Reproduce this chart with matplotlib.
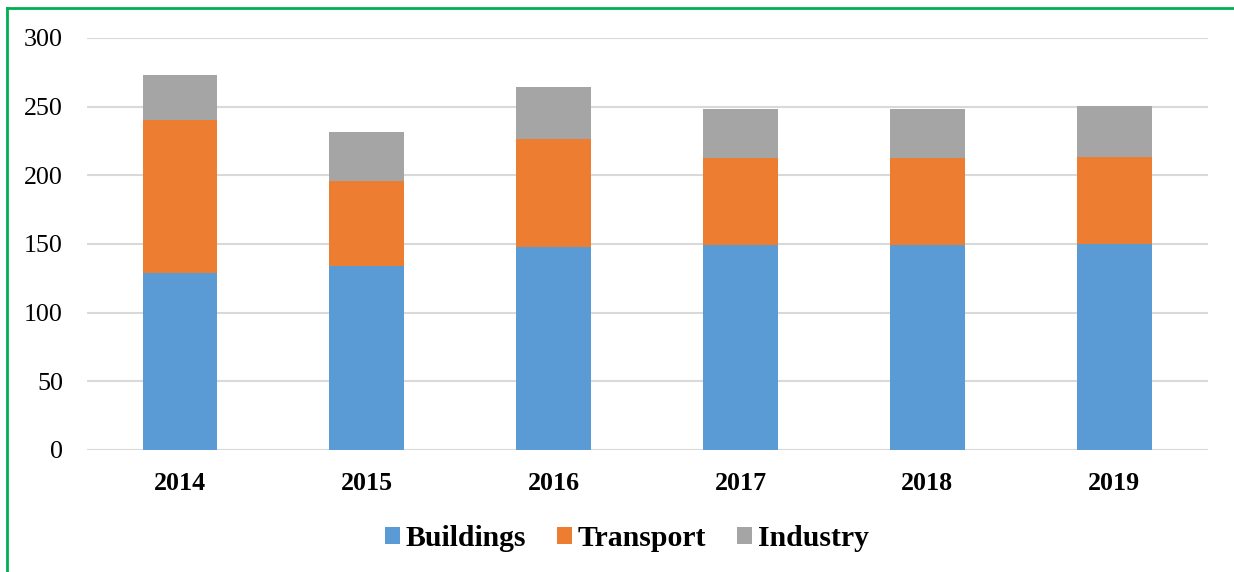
import matplotlib
matplotlib.use("Agg")
import matplotlib.pyplot as plt
from matplotlib.lines import Line2D
from matplotlib.patches import Patch
import numpy as np

years = ["2014", "2015", "2016", "2017", "2018", "2019"]
buildings = [129, 134, 148, 149.5, 149.5, 150]
transport = [111.5, 62, 78.5, 63, 63, 63]
industry = [32.5, 35.5, 38, 35.5, 35.5, 37.5]

series_names = ["Buildings", "Transport", "Industry"]
colors = ["#5b9bd5", "#ed7d31", "#a5a5a5"]

plt.rcParams["font.family"] = ["Liberation Serif", "DejaVu Serif"]

fig = plt.figure(figsize=(12.34, 5.72), dpi=100)
ax = fig.add_axes([0.0701, 0.2136, 0.9085, 0.72])

x = np.arange(len(years))
bottom = np.zeros(len(years))
for vals, name, col in zip([buildings, transport, industry], series_names, colors):
    vals = np.asarray(vals, dtype=float)
    ax.bar(x, vals, width=0.4, bottom=bottom, color=col, label=name, zorder=3)
    bottom += vals

ax.set_xlim(-0.5, len(years) - 0.5)
ax.set_ylim(0, 300)
ax.set_yticks(np.arange(0, 301, 50))
ax.set_xticks(x)
ax.set_xticklabels(years, fontweight="bold")
ax.tick_params(axis="y", length=0, pad=17, labelsize=18.7)
ax.tick_params(axis="x", length=0, pad=16, labelsize=18.7)
ax.grid(axis="y", color="#d9d9d9", linewidth=1.5, zorder=0)
for s in ax.spines.values():
    s.set_visible(False)

handles = [Patch(facecolor=c, edgecolor="none") for c in colors]
fig.legend(
    handles,
    series_names,
    loc="center",
    bbox_to_anchor=(0.508, 0.059),
    ncol=3,
    frameon=False,
    prop={"weight": "bold", "size": 21.4},
    handlelength=0.5,
    handleheight=0.5,
    handletextpad=0.2,
    columnspacing=1.04,
)

# green frame around the chart (only left and top edges visible)
fig.add_artist(Line2D([0.0057, 0.0057], [0, 0.986], transform=fig.transFigure, color="#00b050", linewidth=2))
fig.add_artist(Line2D([0.0057, 1.0], [0.986, 0.986], transform=fig.transFigure, color="#00b050", linewidth=2))

fig.savefig("out.png", dpi=100)
